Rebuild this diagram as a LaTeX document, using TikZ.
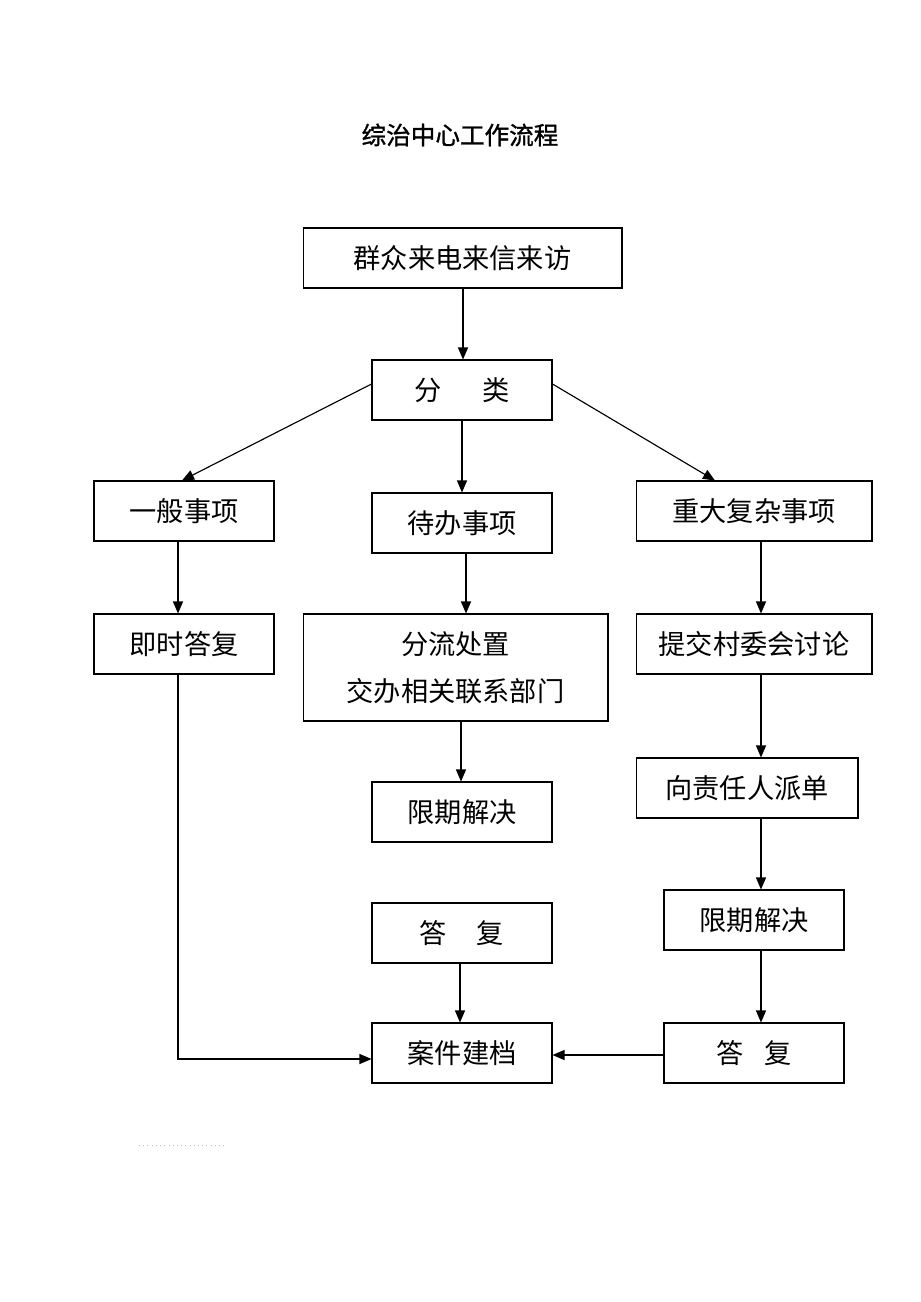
\documentclass[tikz,border=0pt]{standalone}
\usepackage{fontspec}
\newfontfamily\cjk{Noto Sans CJK SC}
\newfontfamily\cjktitle[FakeBold=1.2]{Noto Sans CJK SC}
\usetikzlibrary{arrows, arrows.meta}
\usetikzlibrary{positioning}

\tikzset{
	box/.style={draw, line width=0.6pt, minimum height=1.2cm, inner sep=0pt, align=center, font=\cjk\fontsize{15.5}{27}\selectfont},
	arr/.style={-{Triangle[length=2.4mm,width=2mm]}, line width=0.65pt},
}

\begin{document}
\begin{tikzpicture}[x=0.02cm, y=-0.02cm]
					\useasboundingbox (0,0) rectangle (920,1302);
					
					%title
					\node[font=\cjktitle\fontsize{14}{16}\selectfont] (title) at (460,135) {综治中心工作流程};
					
					%first rows
					\node[box, minimum width=6.38cm] (laifang) at (462.5,258) {群众来电来信来访};
					\node[box, minimum width=3.6cm] (fenlei) at (462,390) {分\hspace{1.5em}类};
					\node[box, minimum width=3.6cm] (yiban) at (184,511) {一般事项};
					\node[box, minimum width=3.6cm] (daiban) at (462,523) {待办事项};
					\node[box, minimum width=4.72cm] (zhongda) at (754,511) {重大复杂事项};
					
					%left column
					\node[box, minimum width=3.6cm] (jishi) at (184,644) {即时答复};
					
					%middle column
					\node[box, minimum width=6.1cm, minimum height=2.14cm] (fenliu) at (455.5,667.5) {分流处置\\交办相关联系部门};
					\node[box, minimum width=3.6cm] (xianqiA) at (462,812) {限期解决};
					\node[box, minimum width=3.6cm] (dafuA) at (462,933) {答\hspace{1.1em}复};
					\node[box, minimum width=3.6cm] (jiandang) at (462,1053) {案件建档};
					
					%right column
					\node[box, minimum width=4.72cm] (tijiao) at (754,644) {提交村委会讨论};
					\node[box, minimum width=4.44cm] (paidan) at (747,788) {向责任人派单};
					\node[box, minimum width=3.6cm] (xianqiB) at (754,920) {限期解决};
					\node[box, minimum width=3.6cm] (dafuB) at (754,1053) {答\hspace{0.75em}复};
					
					%arrows
					\draw[arr] (laifang.south -| 463,0) -- (fenlei.north -| 463,0);
					\draw[arr] (fenlei.west |- 0,384) -- (yiban.north -| 182,0);
					\draw[arr] (fenlei.south) -- (daiban.north);
					\draw[arr] (fenlei.east |- 0,384) -- (zhongda.north -| 715,0);
					\draw[arr] (yiban.south -| 178,0) -- (jishi.north -| 178,0);
					\draw[arr] (daiban.south -| 466,0) -- (fenliu.north -| 466,0);
					\draw[arr] (zhongda.south -| 761,0) -- (tijiao.north -| 761,0);
					\draw[arr] (fenliu.south -| 461,0) -- (xianqiA.north -| 461,0);
					\draw[arr] (tijiao.south -| 761,0) -- (paidan.north -| 761,0);
					\draw[arr] (paidan.south -| 761,0) -- (xianqiB.north -| 761,0);
					\draw[arr] (xianqiB.south -| 761,0) -- (dafuB.north -| 761,0);
					\draw[arr] (dafuA.south -| 460,0) -- (jiandang.north -| 460,0);
					\draw[arr] (jishi.south -| 178,0) |- (jiandang.west |- 0,1059);
					\draw[arr] (dafuB.west |- 0,1055) -- (jiandang.east |- 0,1055);
					
					%small mark
					\draw[gray!50, dotted, line width=0.4pt] (139,1145) -- (227,1145);
				\end{tikzpicture}
\end{document}
